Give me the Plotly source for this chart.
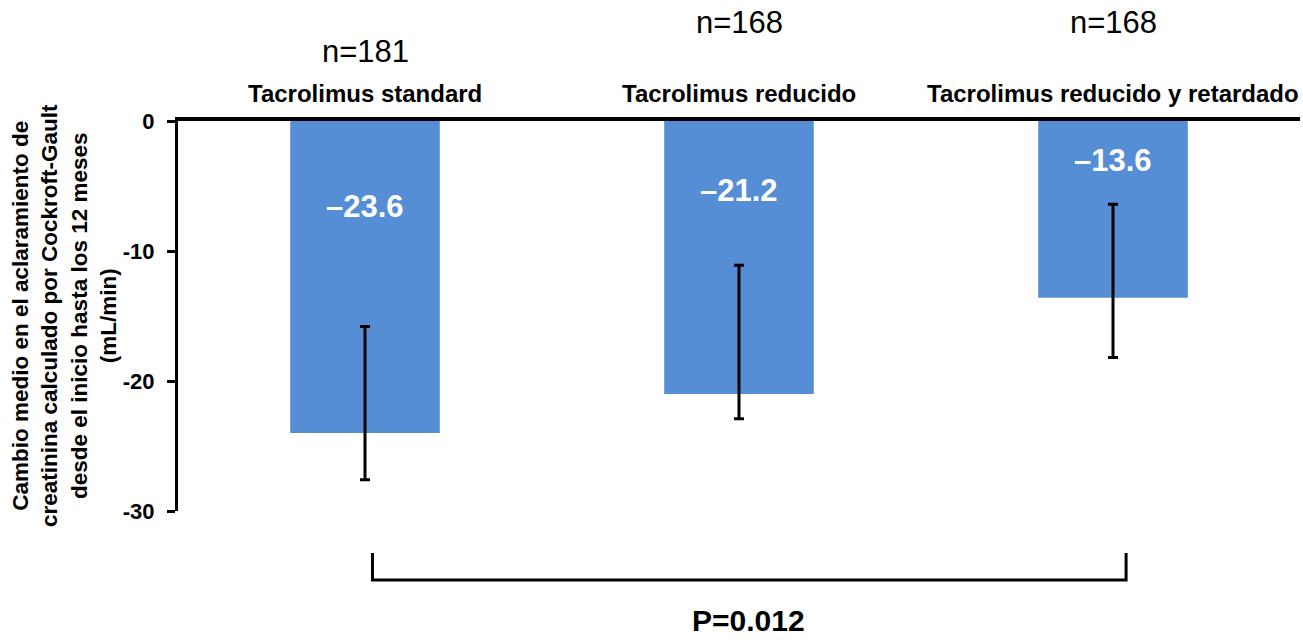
import plotly.graph_objects as go

# ---- data ----
categories = ["Tacrolimus standard", "Tacrolimus reducido", "Tacrolimus reducido y retardado"]
n_labels = ["n=181", "n=168", "n=168"]
mean_change = [-24.0, -21.0, -13.6]
value_labels = ["\u201323.6", "\u201321.2", "\u201313.6"]
ci_top = [-15.8, -11.1, -6.4]
ci_bottom = [-27.6, -22.9, -18.2]
y_ticks = [0, -10, -20, -30]
y_ticktext = ["0", "-10", "-20", "-30"]
p_text = "P=0.012"

# ---- layout constants (pixels) ----
W, H = 1303, 640
ML, MR, MT, MB = 178, 3, 121, 129
PH = H - MT - MB
FONT = "Liberation Sans, Arial, sans-serif"
BAR_COLOR = "#558ED5"


def py(p):
    """pixel y -> paper y"""
    return (H - MB - p) / PH


def px(p):
    return (p - ML) / (W - ML - MR)


x_idx = list(range(len(categories)))
err_plus = [t - v for t, v in zip(ci_top, mean_change)]
err_minus = [v - b for b, v in zip(ci_bottom, mean_change)]

fig = go.Figure()
fig.add_trace(go.Bar(
    x=x_idx, y=mean_change, width=0.4,
    marker=dict(color=BAR_COLOR, line=dict(width=0)),
    error_y=dict(type="data", symmetric=False, array=err_plus, arrayminus=err_minus,
                 color="black", thickness=3, width=5),
    hoverinfo="skip",
))

C = dict(xanchor="center", yanchor="middle", showarrow=False)
annotations = []
label_y_px = [206, 190, 160]
for i in x_idx:
    annotations.append(dict(x=i, y=py(93), xref="x", yref="paper", text=categories[i], **C,
                            font=dict(family=FONT, size=24, color="black", weight="bold")))
    annotations.append(dict(x=i, y=py(label_y_px[i]), xref="x", yref="paper", text=value_labels[i], **C,
                            font=dict(family=FONT, size=31, color="white", weight="bold")))
n_y_px = [52, 22, 22]
for i in x_idx:
    annotations.append(dict(x=i, y=py(n_y_px[i]), xref="x", yref="paper", text=n_labels[i], **C,
                            font=dict(family=FONT, size=31, color="black")))

annotations.append(dict(x=px(748), y=py(620), xref="paper", yref="paper", text=p_text, **C,
                        font=dict(family=FONT, size=30, color="black", weight="bold")))
annotations.append(dict(x=px(64), y=py(316), xref="paper", yref="paper", textangle=-90,
                        text="Cambio medio en el aclaramiento de<br>creatinina calculado por Cockroft-Gault<br>"
                             "desde el inicio hasta los 12 meses<br>(mL/min)",
                        align="center", **C,
                        font=dict(family=FONT, size=22.5, color="black", weight="bold")))

shapes = [dict(type="path", xref="x", yref="paper",
               path=f"M 0.02,{py(553)} L 0.02,{py(580)} L 2.035,{py(580)} L 2.035,{py(553)}",
               line=dict(color="black", width=3))]

fig.update_layout(
    width=W, height=H,
    margin=dict(l=ML, r=MR, t=MT, b=MB),
    plot_bgcolor="white", paper_bgcolor="white",
    showlegend=False,
    annotations=annotations, shapes=shapes,
    xaxis=dict(range=[-0.5, 2.5], side="top", showline=True, linecolor="black", linewidth=4,
               showticklabels=False, ticks="", showgrid=False, zeroline=False, fixedrange=True),
    yaxis=dict(range=[-30, 0], showline=True, linecolor="black", linewidth=3,
               ticks="outside", ticklen=8, tickwidth=3, tickcolor="black",
               tickvals=y_ticks, ticktext=y_ticktext, ticklabelstandoff=8,
               tickfont=dict(family=FONT, size=22, color="black", weight="bold"),
               showgrid=False, zeroline=False, fixedrange=True),
)

fig.write_html("out.html")
